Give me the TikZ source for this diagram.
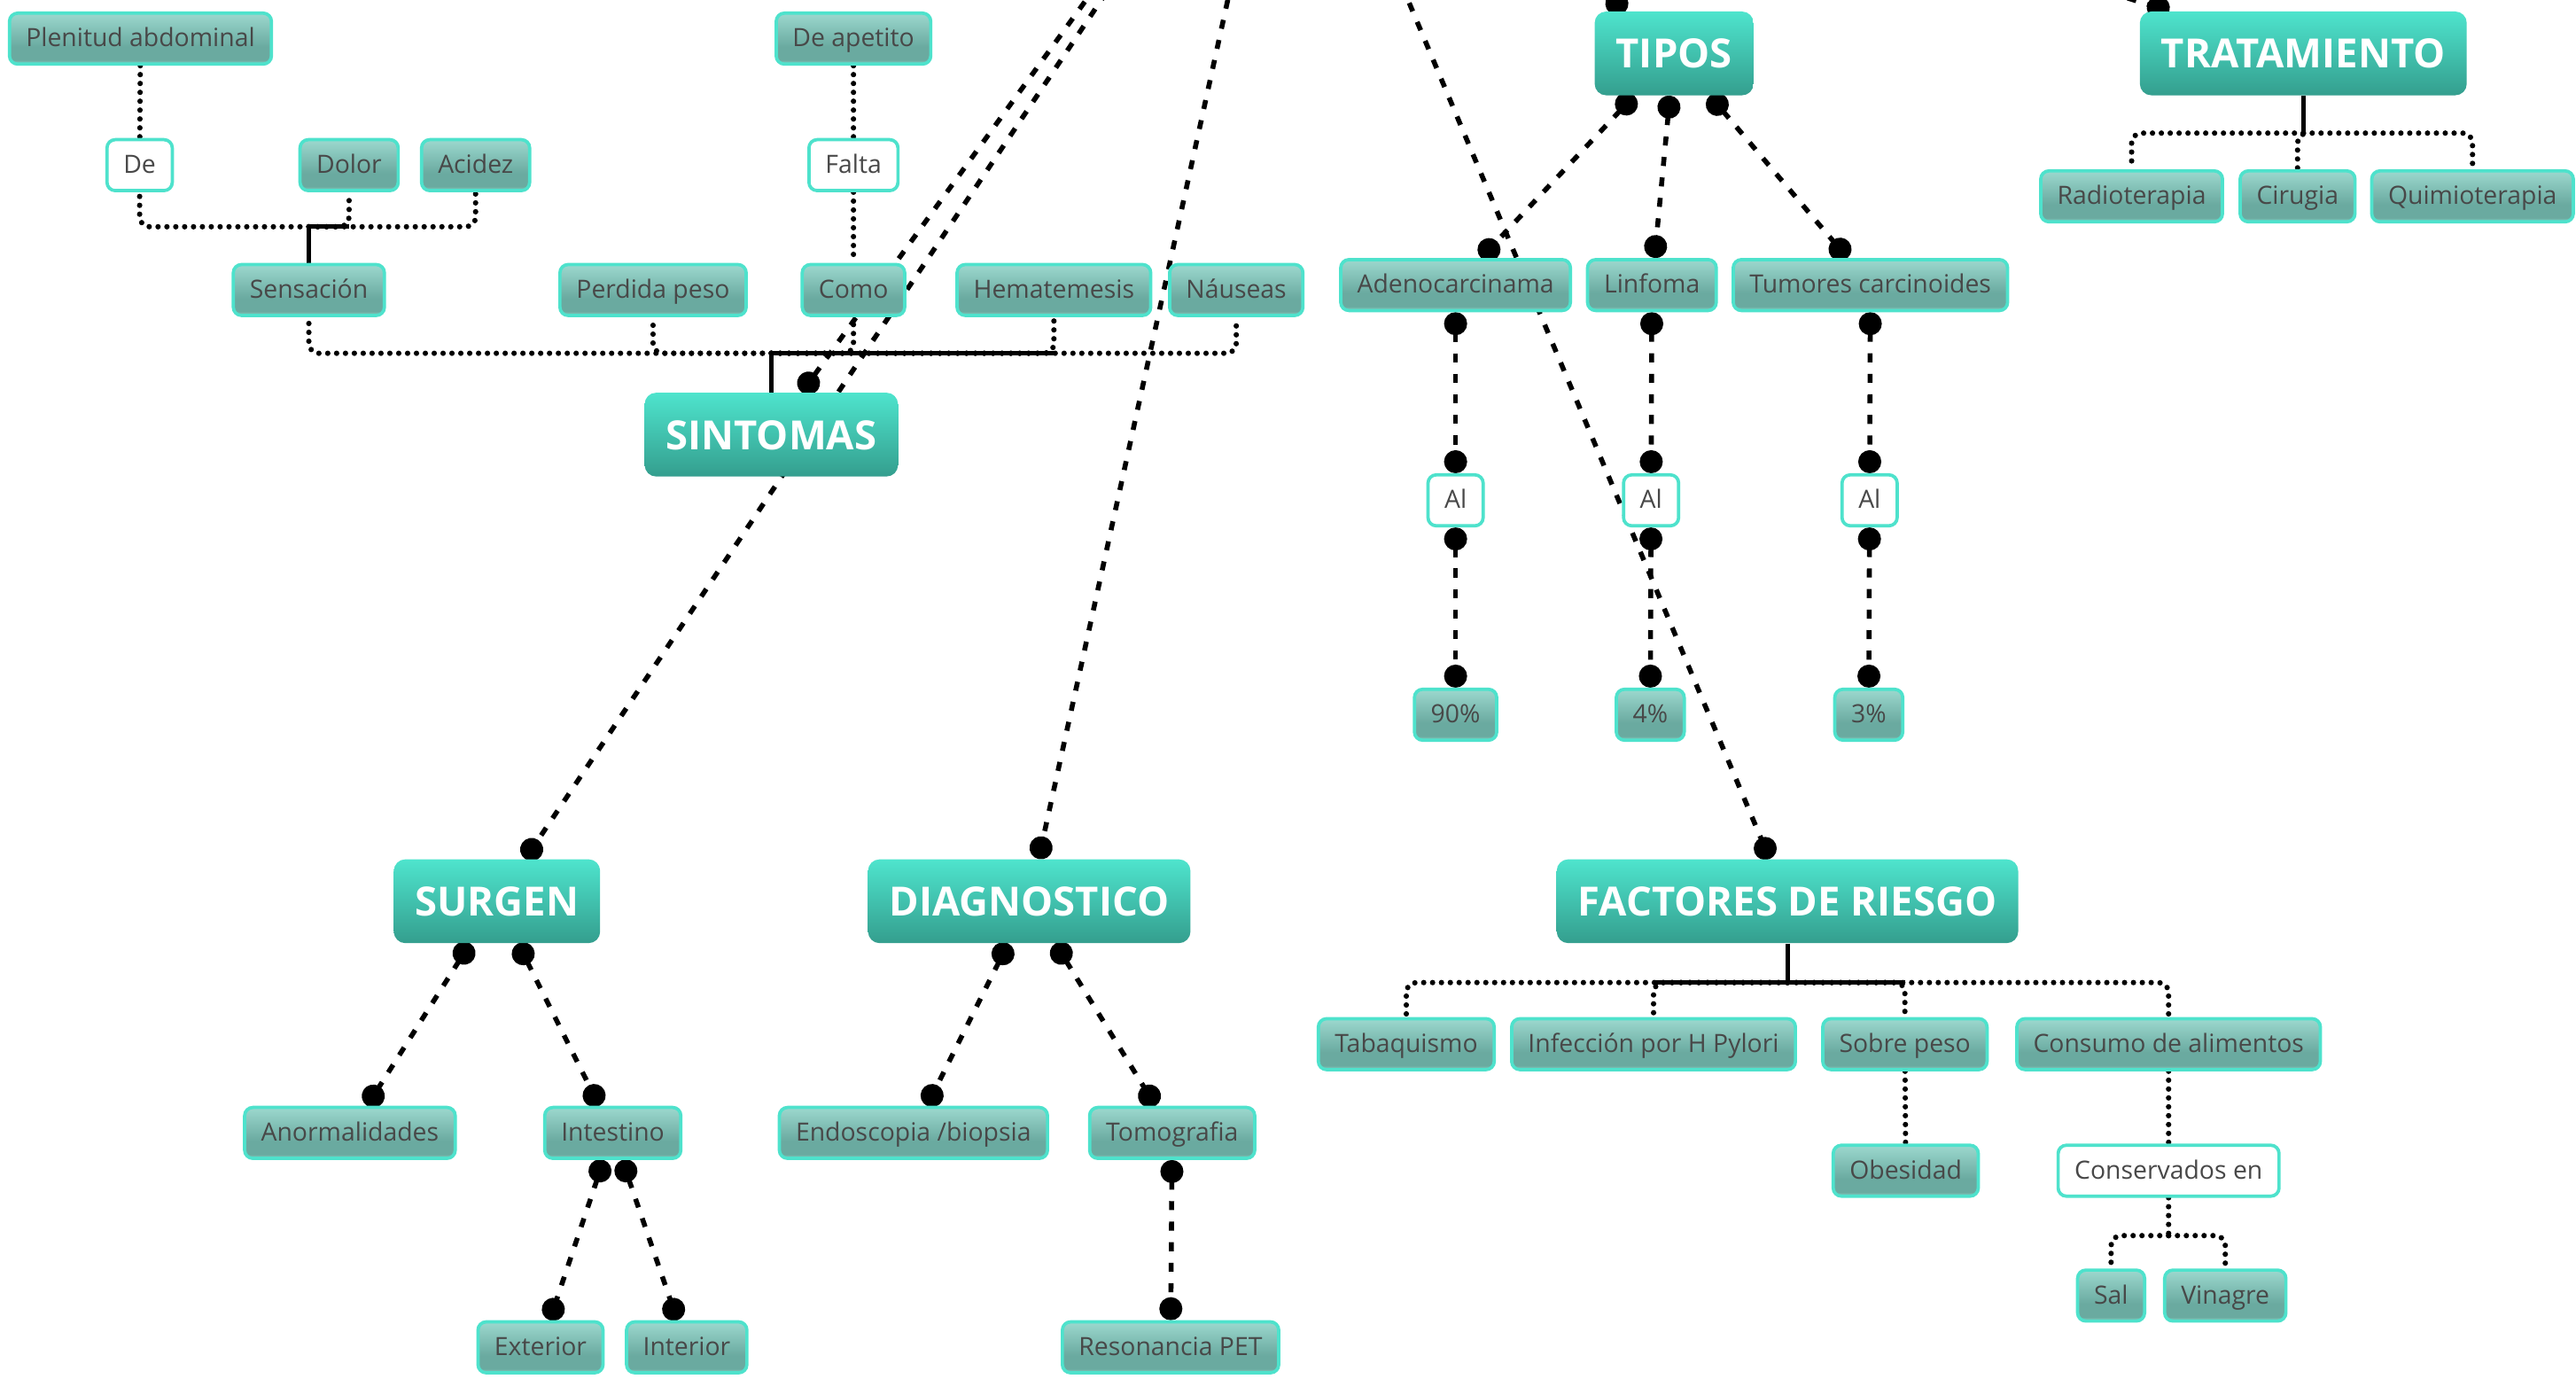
\documentclass[tikz,border=0pt]{standalone}
\usepackage{fontspec}
\setmainfont{Open Sans}
\usetikzlibrary{arrows.meta,backgrounds}

\definecolor{bordeTurquesa}{RGB}{78,226,204}
\definecolor{verdeClaro}{RGB}{156,216,206}
\definecolor{verdeMedio}{RGB}{106,170,160}
\definecolor{bandaClara}{RGB}{140,212,198}
\definecolor{tituloClaro}{RGB}{78,228,205}
\definecolor{tituloOscuro}{RGB}{52,158,142}
\definecolor{textoGris}{RGB}{72,72,72}

\pgfdeclareverticalshading{cajaverde}{100bp}{color(0bp)=(bandaClara); color(25bp)=(bandaClara); color(29bp)=(verdeMedio); color(42bp)=(verdeMedio); color(75bp)=(verdeClaro); color(100bp)=(verdeClaro)}

\tikzset{
  cajabase/.style={draw=bordeTurquesa, line width=2pt, rounded corners=5pt, text=textoGris, font=\fontsize{15.3}{18}\selectfont, inner xsep=10pt, inner ysep=2pt, text height=13.5pt, text depth=3.5pt, minimum height=31pt},
  concepto/.style={cajabase, shade, shading=cajaverde},
  palabra/.style={cajabase, fill=white},
  titulo/.style={top color=tituloClaro, bottom color=tituloOscuro, rounded corners=7pt, text=white, font=\fontsize{24.5}{29}\selectfont\bfseries, inner xsep=13pt, text height=18pt, text depth=0pt, minimum height=51pt},
  rama/.style={line width=3.3pt, dash pattern=on 0pt off 5.4pt, line cap=round, rounded corners=6pt},
  tallo/.style={line width=2.8pt},
  cruce/.style={line width=3pt, dash pattern=on 5.5pt off 7pt, arrows={Circle[length=14pt]-Circle[length=14pt]}},
}

\begin{document}
\begin{tikzpicture}[x=1pt,y=1pt,yscale=-1,xscale=1]
\useasboundingbox (0,0) rectangle (1568,839);

%Hub of the map, above the page
\coordinate (centro) at (785,-171);
\coordinate (centroDer) at (1140,-50);

% Title Nodes
\draw (469.5,264.5) node [titulo] (sintomas) {SINTOMAS};
\draw (1019,32.5) node [titulo] (tipos) {TIPOS};
\draw (1402,32.5) node [titulo] (tratamiento) {TRATAMIENTO};
\draw (302.5,548.5) node [titulo] (surgen) {SURGEN};
\draw (626.5,548.5) node [titulo] (diagnostico) {DIAGNOSTICO};
\draw (1088,548.5) node [titulo] (factores) {FACTORES DE RIESGO};

% Text Nodes: sintomas
\draw (85.5,23.5) node [concepto] (plenitud) {Plenitud abdominal};
\draw (85,100.5) node [palabra] (de) {De};
\draw (212.5,100.5) node [concepto] (dolor) {Dolor};
\draw (289.5,100.5) node [concepto] (acidez) {Acidez};
\draw (188,176.5) node [concepto] (sensacion) {Sensación};
\draw (397.5,176.5) node [concepto] (perdida) {Perdida peso};
\draw (519.5,23.5) node [concepto] (apetito) {De apetito};
\draw (519.5,100.5) node [palabra] (falta) {Falta};
\draw (519.5,176.5) node [concepto] (como) {Como};
\draw (641.5,176.5) node [concepto] (hematemesis) {Hematemesis};
\draw (752.5,176.5) node [concepto] (nauseas) {Náuseas};

% Text Nodes: tipos
\draw (886,173.5) node [concepto] (adeno) {Adenocarcinama};
\draw (1005.5,173.5) node [concepto] (linfoma) {Linfoma};
\draw (1138.5,173.5) node [concepto] (tumores) {Tumores carcinoides};
\draw (886,304.5) node [palabra] (alA) {Al};
\draw (1005,304.5) node [palabra] (alB) {Al};
\draw (1138,304.5) node [palabra] (alC) {Al};
\draw (886,435) node [concepto] (pctA) {90\%};
\draw (1004.5,435) node [concepto] (pctB) {4\%};
\draw (1137.5,435) node [concepto] (pctC) {3\%};

% Text Nodes: tratamiento
\draw (1297.5,119.5) node [concepto] (radio) {Radioterapia};
\draw (1398.5,119.5) node [concepto] (cirugia) {Cirugia};
\draw (1505,119.5) node [concepto] (quimio) {Quimioterapia};

% Text Nodes: surgen, diagnostico
\draw (213,689.5) node [concepto] (anormal) {Anormalidades};
\draw (373,689.5) node [concepto] (intestino) {Intestino};
\draw (329,820) node [concepto] (exterior) {Exterior};
\draw (418,820) node [concepto] (interior) {Interior};
\draw (556,689.5) node [concepto] (endoscopia) {Endoscopia /biopsia};
\draw (713.5,689.5) node [concepto] (tomografia) {Tomografia};
\draw (712.5,820) node [concepto] (resonancia) {Resonancia PET};

% Text Nodes: factores de riesgo
\draw (856,635.5) node [concepto] (tabaco) {Tabaquismo};
\draw (1006.5,635.5) node [concepto] (pylori) {Infección por H Pylori};
\draw (1159.5,635.5) node [concepto] (sobrepeso) {Sobre peso};
\draw (1320,635.5) node [concepto] (consumo) {Consumo de alimentos};
\draw (1160,712.5) node [concepto] (obesidad) {Obesidad};
\draw (1320,712.5) node [palabra] (conservados) {Conservados en};
\draw (1285,788.5) node [concepto] (sal) {Sal};
\draw (1354.5,788.5) node [concepto] (vinagre) {Vinagre};

\begin{scope}[on background layer]
\fill [white] (0,0) rectangle (1568,839);

%Bus points of the trees
\coordinate (busSen) at (188,138);
\coordinate (busSin) at (469.5,215);
\coordinate (busTrat) at (1402,81);
\coordinate (busFac) at (1088,598);
\coordinate (busCons) at (1320,752);

%Tree: sensacion
\draw [rama] (plenitud) -- (de);
\draw [tallo] (sensacion.north) -- (busSen);
\draw [tallo] (busSen) -- (busSen -| dolor.south);
\draw [rama] (busSen) -| (de.south);
\draw [rama] (busSen) -| (dolor.south);
\draw [rama] (busSen) -| (acidez.south);

%Tree: sintomas
\draw [rama] (apetito) -- (falta);
\draw [rama] (falta) -- (como);
\draw [tallo] (sintomas.north) -- (busSin);
\draw [tallo] (busSin) -- (busSin -| hematemesis.south);
\draw [rama] (busSin) -| (sensacion.south);
\draw [rama] (busSin) -| (perdida.south);
\draw [rama] (busSin) -| (como.south);
\draw [rama] (busSin) -| (hematemesis.south);
\draw [rama] (busSin) -| (nauseas.south);

%Tree: tratamiento
\draw [tallo] (tratamiento.south) -- (busTrat);
\draw [rama] (busTrat) -| (radio.north);
\draw [rama] (busTrat) -| (cirugia.north);
\draw [rama] (busTrat) -| (quimio.north);

%Tree: factores de riesgo
\draw [tallo] (factores.south) -- (busFac);
\draw [tallo] (busFac -| pylori.north) -- (busFac -| sobrepeso.north);
\draw [rama] (busFac) -| (tabaco.north);
\draw [rama] (busFac) -| (pylori.north);
\draw [rama] (busFac) -| (sobrepeso.north);
\draw [rama] (busFac) -| (consumo.north);
\draw [rama] (sobrepeso) -- (obesidad);
\draw [rama] (consumo) -- (conservados);
\draw [rama] (conservados.south) -- (busCons);
\draw [rama] (busCons) -| (sal.north);
\draw [rama] (busCons) -| (vinagre.north);

%Cross links from the hub
\draw [cruce] (centro) -- (sintomas);
\draw [cruce] (centro) -- (surgen);
\draw [cruce] (centro) -- (diagnostico);
\draw [cruce] (centro) -- (factores);
\draw [cruce] (centro) -- (tipos);
\draw [cruce] (centroDer) -- (tratamiento);

%Cross links: tipos
\draw [cruce] (tipos) -- (adeno);
\draw [cruce] (tipos) -- (linfoma);
\draw [cruce] (tipos) -- (tumores);
\draw [cruce] (adeno) -- (alA);
\draw [cruce] (alA) -- (pctA);
\draw [cruce] (linfoma) -- (alB);
\draw [cruce] (alB) -- (pctB);
\draw [cruce] (tumores) -- (alC);
\draw [cruce] (alC) -- (pctC);

%Cross links: surgen, diagnostico
\draw [cruce] (surgen) -- (anormal);
\draw [cruce] (surgen) -- (intestino);
\draw [cruce] (intestino) -- (exterior);
\draw [cruce] (intestino) -- (interior);
\draw [cruce] (diagnostico) -- (endoscopia);
\draw [cruce] (diagnostico) -- (tomografia);
\draw [cruce] (tomografia) -- (resonancia);
\end{scope}
\end{tikzpicture}
\end{document}
